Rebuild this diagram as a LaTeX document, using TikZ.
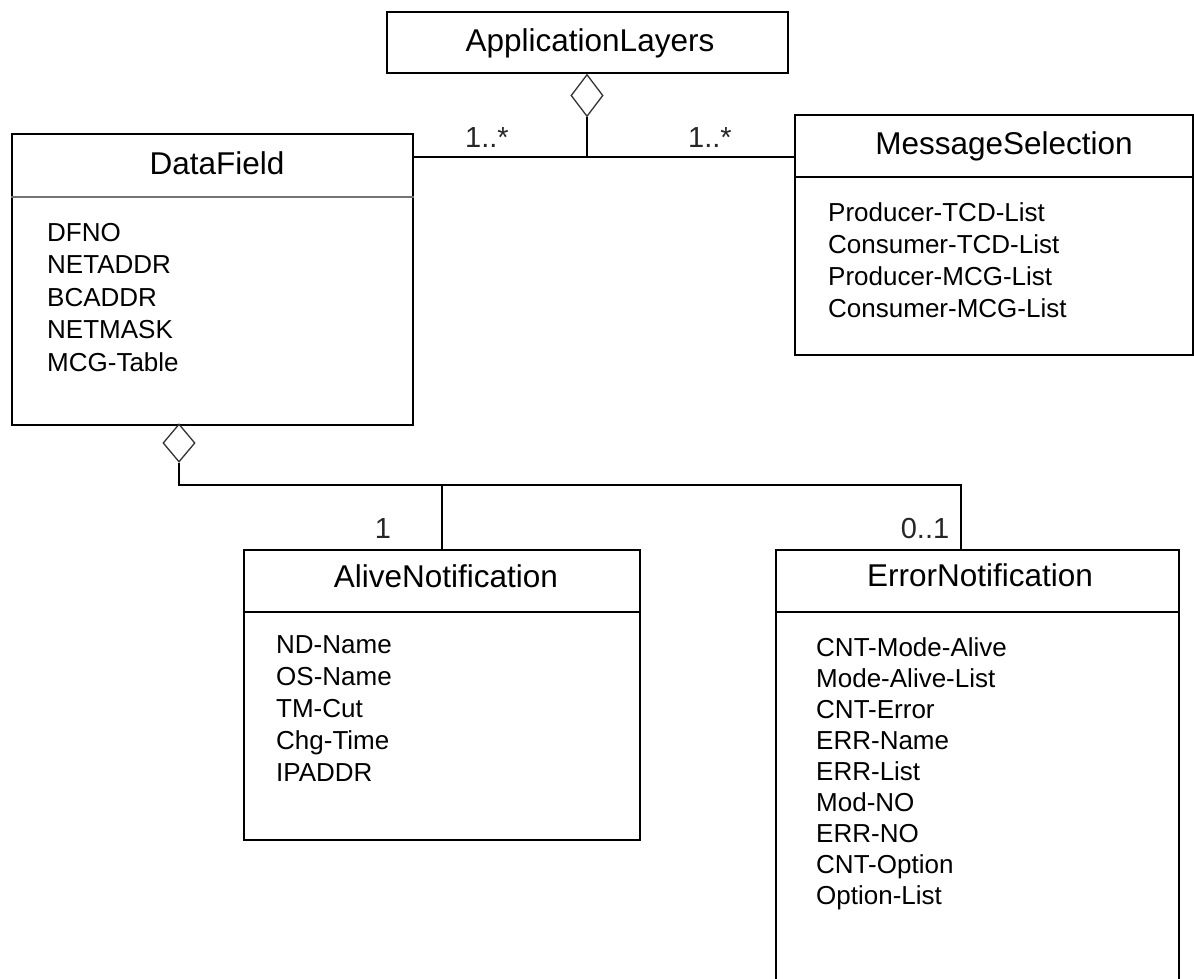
\documentclass[tikz,border=0pt]{standalone}
\usepackage{fontspec}
\setmainfont{Liberation Sans}
\usetikzlibrary{shapes.geometric}

\tikzset{
	classbox/.style={draw, line width=1.8pt, anchor=north west, inner sep=0pt},
	classtitle/.style={anchor=base, inner sep=0pt, font=\fontsize{31.5}{36}\selectfont},
	attr/.style={anchor=base west, inner sep=0pt, font=\fontsize{26}{30}\selectfont},
	multlabel/.style={anchor=base, inner sep=0pt, text=black!85, font=\fontsize{29}{32}\selectfont},
	aggdiamond/.style={diamond, draw=black!80, line width=1.3pt, inner sep=0pt, minimum width=32pt},
	assocline/.style={line width=1.6pt},
	divider/.style={line width=1.6pt}
}

\begin{document}
\begin{tikzpicture}[x=1pt, y=-1pt]
		%%%%% FRAME %%%%%
		\clip (0,0) rectangle (1194,978);
		
		%%%%% CLASSES %%%%%
		\node[classbox, minimum width=401pt, minimum height=61pt] (applayers) at (386,11) {};
		\node[classtitle] (applayerstitle) at (590,51.5) {ApplicationLayers};
		
		\node[classbox, minimum width=401pt, minimum height=291pt] (datafield) at (11,133) {};
		\node[classtitle] (datafieldtitle) at (217,174.5) {DataField};
		\draw[divider, draw=black!55] (datafield.west |- 0,197) -- (datafield.east |- 0,197);
		\foreach \attrname [count=\i from 0] in {DFNO,NETADDR,BCADDR,NETMASK,MCG-Table}
			\node[attr] (dfattr\i) at (47, {241.3+32.5*\i}) {\attrname};
		
		\node[classbox, minimum width=398pt, minimum height=240pt] (msgsel) at (794,114) {};
		\node[classtitle] (msgseltitle) at (1004,154.5) {MessageSelection};
		\draw[divider] (msgsel.west |- 0,177) -- (msgsel.east |- 0,177);
		\foreach \attrname [count=\i from 0] in {Producer-TCD-List,Consumer-TCD-List,Producer-MCG-List,Consumer-MCG-List}
			\node[attr] (msattr\i) at (828, {221.3+32*\i}) {\attrname};
		
		\node[classbox, minimum width=396pt, minimum height=290pt] (alivenote) at (243,549) {};
		\node[classtitle] (alivenotetitle) at (446,587.5) {AliveNotification};
		\draw[divider] (alivenote.west |- 0,612) -- (alivenote.east |- 0,612);
		\foreach \attrname [count=\i from 0] in {ND-Name,OS-Name,TM-Cut,Chg-Time,IPADDR}
			\node[attr] (anattr\i) at (276, {653.3+32*\i}) {\attrname};
		
		\node[classbox, minimum width=403pt, minimum height=460pt] (errnote) at (775,549) {};
		\node[classtitle] (errnotetitle) at (980,586.5) {ErrorNotification};
		\draw[divider] (errnote.west |- 0,612) -- (errnote.east |- 0,612);
		\foreach \attrname [count=\i from 0] in {CNT-Mode-Alive,Mode-Alive-List,CNT-Error,ERR-Name,ERR-List,Mod-NO,ERR-NO,CNT-Option,Option-List}
			\node[attr] (enattr\i) at (816, {656.3+31*\i}) {\attrname};
		
		%%%%% AGGREGATIONS %%%%%
		\node[aggdiamond, minimum height=42pt] (appdiamond) at (587,95.5) {};
		\coordinate (topjoin) at (587,157);
		\draw[assocline] (appdiamond.south) -- (topjoin);
		\draw[assocline] (datafield.east |- topjoin) -- (msgsel.west |- topjoin);
		\node[multlabel] (dfmult) at (487,147.4) {1..*};
		\node[multlabel] (msmult) at (710,147.4) {1..*};
		
		\node[aggdiamond, minimum height=38pt] (dfdiamond) at (179,443) {};
		\coordinate (botjoin) at (961,485);
		\draw[assocline] (dfdiamond.south) |- (botjoin) -- (botjoin |- errnote.north);
		\draw[assocline] (alivenote.north) -- (alivenote.north |- botjoin);
		\node[multlabel] (anmult) at (383,538.4) {1};
		\node[multlabel] (enmult) at (925,538.4) {0..1};
		
	\end{tikzpicture}
\end{document}
